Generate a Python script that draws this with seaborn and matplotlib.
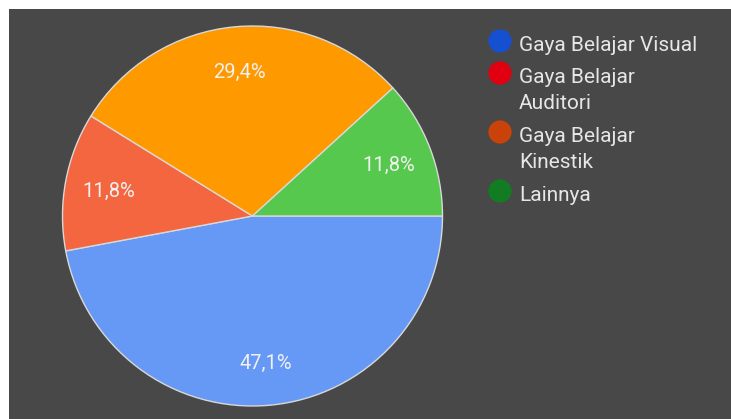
import matplotlib
matplotlib.use("Agg")
import matplotlib.pyplot as plt
import seaborn as sns
from matplotlib.patches import Rectangle

sns.set_theme(style="white")
plt.rcParams['font.family'] = ['Roboto', 'DejaVu Sans']

# Data
categories = ["Gaya Belajar Visual", "Gaya Belajar\nAuditori", "Gaya Belajar\nKinestik", "Lainnya"]
counts = [8, 2, 5, 2]
slice_colors = ["#6699f5", "#f4663f", "#ff9900", "#55c84d"]
legend_colors = ["#1550d0", "#e0000f", "#c8420a", "#127c22"]

W, H = 731, 419
fig = plt.figure(figsize=(W / 100, H / 100), dpi=100, facecolor="white")
fig.add_artist(Rectangle((9 / W, 0), 1, (H - 9) / H, transform=fig.transFigure,
                         facecolor="#484848", edgecolor="none", zorder=-10))

cx, cy, r = 252.5, 216, 190
ax = fig.add_axes([(cx - r) / W, (H - cy - r) / H, 2 * r / W, 2 * r / H])
ax.set_facecolor("none")

wedges, texts, autotexts = ax.pie(
    counts, colors=slice_colors, startangle=0, counterclock=False,
    autopct=lambda p: f"{p:.1f}%".replace(".", ","), pctdistance=0.77,
    wedgeprops=dict(edgecolor="#d8d8d8", linewidth=1.0),
    textprops=dict(color="#f0f0f0", fontsize=14.5, va="center_baseline"),
)
ax.set_xlim(-1, 1)
ax.set_ylim(-1, 1)
ax.set_aspect("equal")
ax.axis("off")

# Legend (manual, markers aligned with first line)
lax = fig.add_axes([0, 0, 1, 1])
lax.set_xlim(0, W)
lax.set_ylim(H, 0)
lax.axis("off")
y = 44
line_pitch = 27
entry_gap = 32
for lab, col in zip(categories, legend_colors):
    lax.scatter([500], [y - 3], s=280, color=col, edgecolor="none")
    lax.text(519, y - 8, lab, color="#e6e6e6", fontsize=15, va="top", ha="left",
             linespacing=1.44)
    nlines = lab.count("\n") + 1
    y += (nlines - 1) * line_pitch + entry_gap

fig.savefig("out.png", dpi=100, facecolor="white")
